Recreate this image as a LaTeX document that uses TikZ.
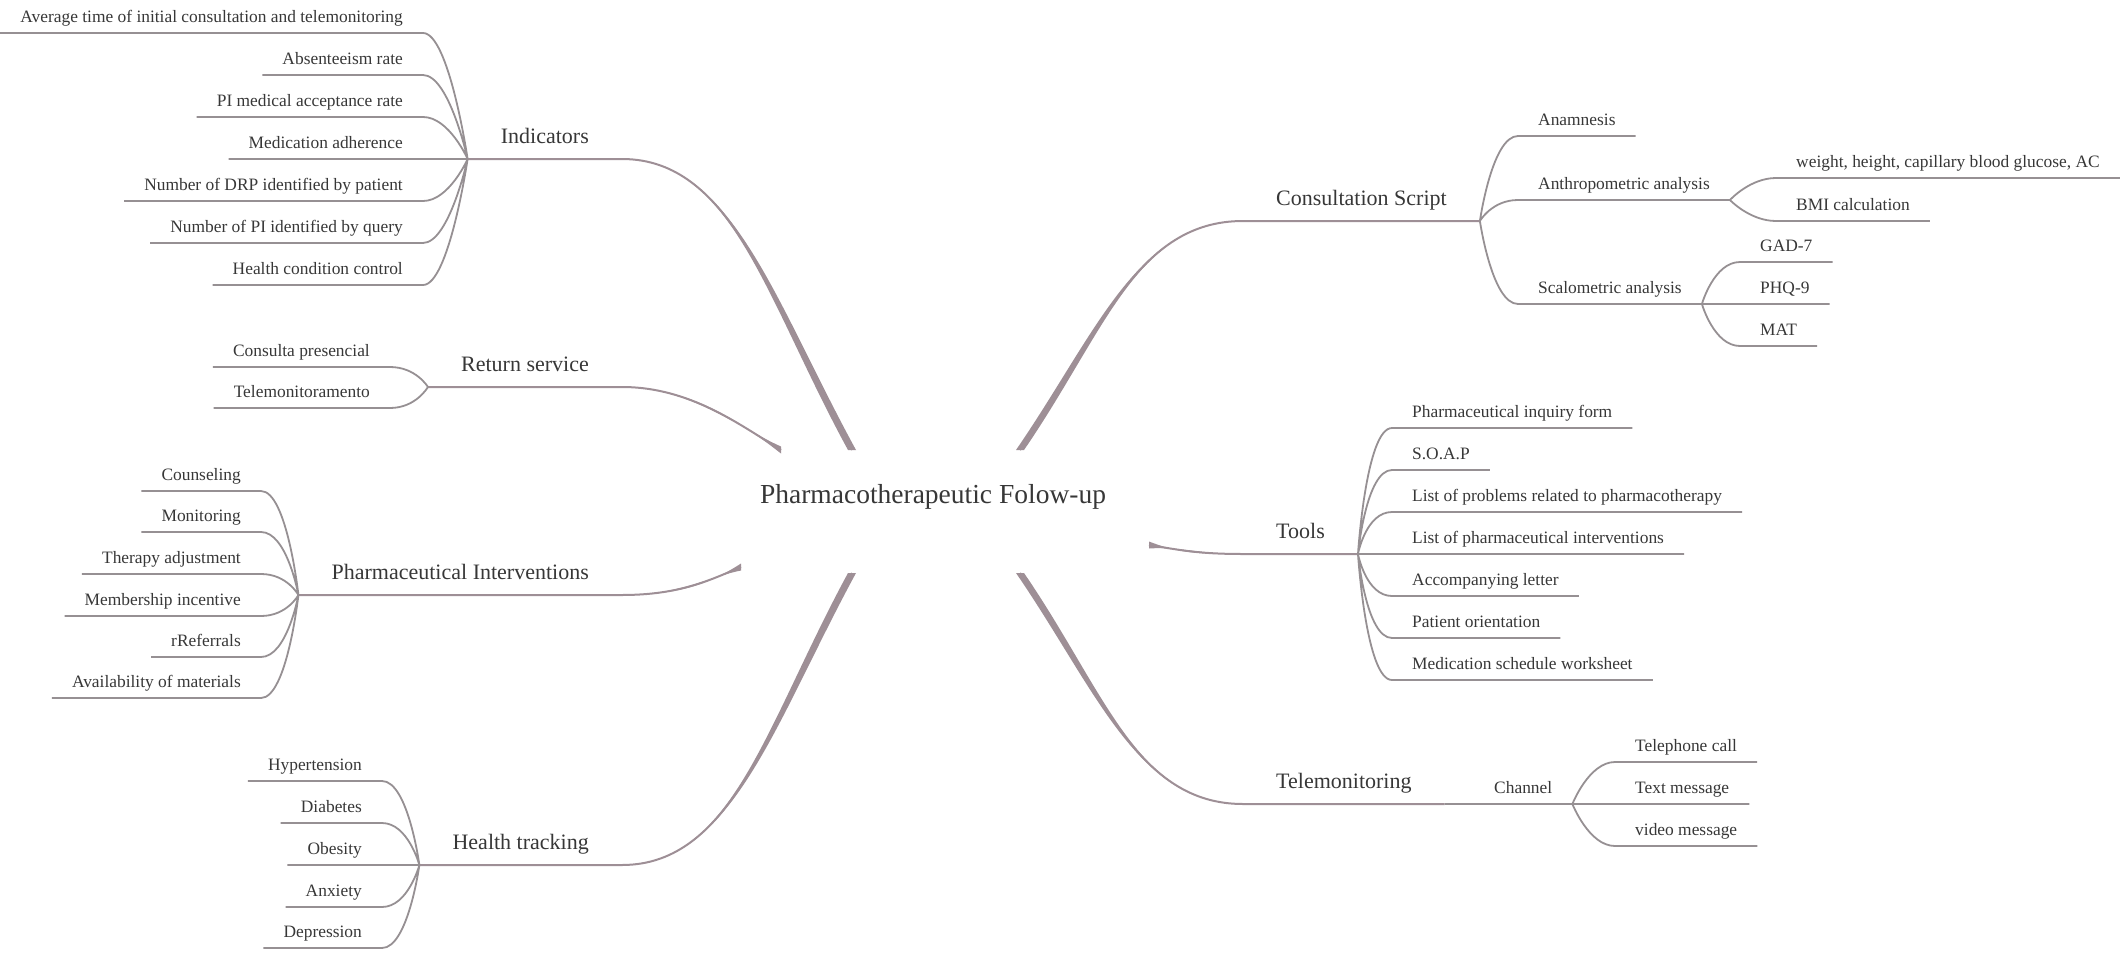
\documentclass[tikz,border=0pt]{standalone}
\usepackage{fontspec}
\setmainfont{Liberation Serif}
\usetikzlibrary{calc}

\definecolor{limbgray}{RGB}{158,143,150}
\definecolor{twiggray}{RGB}{150,144,147}
\definecolor{inkgray}{RGB}{55,55,55}

\begin{document}
\begin{tikzpicture}[
  x=1pt, y=-1pt,
  every node/.style={text=inkgray},
  root/.style={font=\fontsize{27.5}{33}\selectfont, inner sep=0pt},
  topic/.style={font=\fontsize{22}{26}\selectfont, text depth=0pt, inner xsep=33pt, inner ysep=15pt},
  leaf/.style={font=\fontsize{17.4}{21}\selectfont, text depth=0pt, inner xsep=20pt, inner ysep=10pt},
  limb/.style={draw=limbgray, line width=2pt},
  twig/.style={draw=twiggray, line width=1.8pt},
  twigL/.style={to path={.. controls (\tikztostart) and ($(\tikztotarget)+(26,0)$) .. (\tikztotarget)}},
  twigR/.style={to path={.. controls (\tikztostart) and ($(\tikztotarget)+(-26,0)$) .. (\tikztotarget)}}
]
\useasboundingbox (0,0) rectangle (2122,953);

% centre
\node[root] (root) at (933,497) {Pharmacotherapeutic Folow-up};
\coordinate (e-ind) at (852,450);
\coordinate (e-ret) at (781,450);
\coordinate (e-int) at (741,567);
\coordinate (e-hlt) at (852,573);
\coordinate (e-csc) at (1020,450);
\coordinate (e-tls) at (1149,545);
\coordinate (e-tel) at (1020,573);

% main topics
\node[topic, anchor=south east] (ind) at (622,159) {Indicators};
\node[topic, anchor=south east] (ret) at (622,387) {Return service};
\node[topic, anchor=south east] (int) at (622,595) {Pharmaceutical Interventions};
\node[topic, anchor=south east] (hlt) at (622,865) {Health tracking};
\node[topic, anchor=south west] (csc) at (1243,221) {Consultation Script};
\node[topic, anchor=south west] (tls) at (1243,554) {Tools};
\node[topic, anchor=south west] (tel) at (1243,804) {Telemonitoring};

% limbs, thin at the topic and thick at the centre
\draw[limb] (ind.south west) -- (ind.south east) .. controls (732,159) and (770,300) .. (e-ind);
\fill[limbgray] (ind.south east) .. controls (732,159) and (774,300) .. ([xshift=4]e-ind) -- ([xshift=-4]e-ind) .. controls (766,300) and (732,159) .. (ind.south east);
\draw[limb] (ret.south west) -- (ret.south east) .. controls (690,387) and (740,425) .. (e-ret);
\fill[limbgray] (ret.south east) .. controls (690,387) and (740,428.5) .. ([yshift=3.5]e-ret) -- ([yshift=-3.5]e-ret) .. controls (740,421.5) and (690,387) .. (ret.south east);
\draw[limb] (int.south west) -- (int.south east) .. controls (680,595) and (710,580) .. (e-int);
\fill[limbgray] (int.south east) .. controls (680,595) and (710,583.5) .. ([yshift=3.5]e-int) -- ([yshift=-3.5]e-int) .. controls (710,576.5) and (680,595) .. (int.south east);
\draw[limb] (hlt.south west) -- (hlt.south east) .. controls (732,865) and (770,724) .. (e-hlt);
\fill[limbgray] (hlt.south east) .. controls (732,865) and (774,724) .. ([xshift=4]e-hlt) -- ([xshift=-4]e-hlt) .. controls (766,724) and (732,865) .. (hlt.south east);
\draw[limb] (csc.south east) -- (csc.south west) .. controls (1137,221) and (1101,332) .. (e-csc);
\fill[limbgray] (csc.south west) .. controls (1137,221) and (1105,332) .. ([xshift=4]e-csc) -- ([xshift=-4]e-csc) .. controls (1097,332) and (1137,221) .. (csc.south west);
\draw[limb] (tls.south east) -- (tls.south west) .. controls (1198,554) and (1180,550) .. (e-tls);
\fill[limbgray] (tls.south west) .. controls (1198,554) and (1180,553.5) .. ([yshift=3.5]e-tls) -- ([yshift=-3.5]e-tls) .. controls (1180,546.5) and (1198,554) .. (tls.south west);
\draw[limb] (tel.south east) -- (tel.south west) .. controls (1137,804) and (1101,691) .. (e-tel);
\fill[limbgray] (tel.south west) .. controls (1137,804) and (1105,691) .. ([xshift=4]e-tel) -- ([xshift=-4]e-tel) .. controls (1097,691) and (1137,804) .. (tel.south west);

% Indicators
\node[leaf, anchor=south east] (ind1) at (423,33) {Average time of initial consultation and telemonitoring};
\node[leaf, anchor=south east] (ind2) at (423,75) {Absenteeism rate};
\node[leaf, anchor=south east] (ind3) at (423,117) {PI medical acceptance rate};
\node[leaf, anchor=south east] (ind4) at (423,159) {Medication adherence};
\node[leaf, anchor=south east] (ind5) at (423,201) {Number of DRP identified by patient};
\node[leaf, anchor=south east] (ind6) at (423,243) {Number of PI identified by query};
\node[leaf, anchor=south east] (ind7) at (423,285) {Health condition control};
\draw[twig] (ind.south west) to[twigL] (ind1.south east) -- (ind1.south west)
  (ind.south west) to[twigL] (ind2.south east) -- (ind2.south west)
  (ind.south west) to[twigL] (ind3.south east) -- (ind3.south west)
  (ind.south west) to[twigL] (ind4.south east) -- (ind4.south west)
  (ind.south west) to[twigL] (ind5.south east) -- (ind5.south west)
  (ind.south west) to[twigL] (ind6.south east) -- (ind6.south west)
  (ind.south west) to[twigL] (ind7.south east) -- (ind7.south west);

% Return service
\node[leaf, anchor=south east] (ret1) at (390,367) {Consulta presencial};
\node[leaf, anchor=south east] (ret2) at (390,408) {Telemonitoramento};
\draw[twig] (ret.south west) to[twigL] (ret1.south east) -- (ret1.south west)
  (ret.south west) to[twigL] (ret2.south east) -- (ret2.south west);

% Pharmaceutical Interventions
\node[leaf, anchor=south east] (int1) at (261,491) {Counseling};
\node[leaf, anchor=south east] (int2) at (261,532) {Monitoring};
\node[leaf, anchor=south east] (int3) at (261,574) {Therapy adjustment};
\node[leaf, anchor=south east] (int4) at (261,616) {Membership incentive};
\node[leaf, anchor=south east] (int5) at (261,657) {rReferrals};
\node[leaf, anchor=south east] (int6) at (261,698) {Availability of materials};
\draw[twig] (int.south west) to[twigL] (int1.south east) -- (int1.south west)
  (int.south west) to[twigL] (int2.south east) -- (int2.south west)
  (int.south west) to[twigL] (int3.south east) -- (int3.south west)
  (int.south west) to[twigL] (int4.south east) -- (int4.south west)
  (int.south west) to[twigL] (int5.south east) -- (int5.south west)
  (int.south west) to[twigL] (int6.south east) -- (int6.south west);

% Health tracking
\node[leaf, anchor=south east] (hlt1) at (382,781) {Hypertension};
\node[leaf, anchor=south east] (hlt2) at (382,823) {Diabetes};
\node[leaf, anchor=south east] (hlt3) at (382,865) {Obesity};
\node[leaf, anchor=south east] (hlt4) at (382,907) {Anxiety};
\node[leaf, anchor=south east] (hlt5) at (382,948) {Depression};
\draw[twig] (hlt.south west) to[twigL] (hlt1.south east) -- (hlt1.south west)
  (hlt.south west) to[twigL] (hlt2.south east) -- (hlt2.south west)
  (hlt.south west) to[twigL] (hlt3.south east) -- (hlt3.south west)
  (hlt.south west) to[twigL] (hlt4.south east) -- (hlt4.south west)
  (hlt.south west) to[twigL] (hlt5.south east) -- (hlt5.south west);

% Consultation Script
\node[leaf, anchor=south west] (anam) at (1518,136) {Anamnesis};
\node[leaf, anchor=south west] (anthro) at (1518,200) {Anthropometric analysis};
\node[leaf, anchor=south west] (scalo) at (1518,304) {Scalometric analysis};
\node[leaf, anchor=south west] (wt) at (1776,178) {weight, height, capillary blood glucose, AC};
\node[leaf, anchor=south west] (bmi) at (1776,221) {BMI calculation};
\node[leaf, anchor=south west] (gad) at (1740,262) {GAD-7};
\node[leaf, anchor=south west] (phq) at (1740,304) {PHQ-9};
\node[leaf, anchor=south west] (mat) at (1740,346) {MAT};
\draw[twig] (csc.south east) to[twigR] (anam.south west) -- (anam.south east)
  (csc.south east) to[twigR] (anthro.south west) -- (anthro.south east)
  (csc.south east) to[twigR] (scalo.south west) -- (scalo.south east)
  (anthro.south east) to[twigR] (wt.south west) -- (wt.south east)
  (anthro.south east) to[twigR] (bmi.south west) -- (bmi.south east)
  (scalo.south east) to[twigR] (gad.south west) -- (gad.south east)
  (scalo.south east) to[twigR] (phq.south west) -- (phq.south east)
  (scalo.south east) to[twigR] (mat.south west) -- (mat.south east);

% Tools
\node[leaf, anchor=south west] (tls1) at (1392,428) {Pharmaceutical inquiry form};
\node[leaf, anchor=south west] (tls2) at (1392,470) {S.O.A.P};
\node[leaf, anchor=south west] (tls3) at (1392,512) {List of problems related to pharmacotherapy};
\node[leaf, anchor=south west] (tls4) at (1392,554) {List of pharmaceutical interventions};
\node[leaf, anchor=south west] (tls5) at (1392,596) {Accompanying letter};
\node[leaf, anchor=south west] (tls6) at (1392,638) {Patient orientation};
\node[leaf, anchor=south west] (tls7) at (1392,680) {Medication schedule worksheet};
\draw[twig] (tls.south east) to[twigR] (tls1.south west) -- (tls1.south east)
  (tls.south east) to[twigR] (tls2.south west) -- (tls2.south east)
  (tls.south east) to[twigR] (tls3.south west) -- (tls3.south east)
  (tls.south east) to[twigR] (tls4.south west) -- (tls4.south east)
  (tls.south east) to[twigR] (tls5.south west) -- (tls5.south east)
  (tls.south east) to[twigR] (tls6.south west) -- (tls6.south east)
  (tls.south east) to[twigR] (tls7.south west) -- (tls7.south east);

% Telemonitoring
\node[leaf, anchor=south west] (chan) at (1474,804) {Channel};
\node[leaf, anchor=south west] (call) at (1615,762) {Telephone call};
\node[leaf, anchor=south west] (sms) at (1615,804) {Text message};
\node[leaf, anchor=south west] (video) at (1615,846) {video message};
\draw[twig] (tel.south east) to[twigR] (chan.south west) -- (chan.south east)
  (chan.south east) to[twigR] (call.south west) -- (call.south east)
  (chan.south east) to[twigR] (sms.south west) -- (sms.south east)
  (chan.south east) to[twigR] (video.south west) -- (video.south east);
\end{tikzpicture}
\end{document}
